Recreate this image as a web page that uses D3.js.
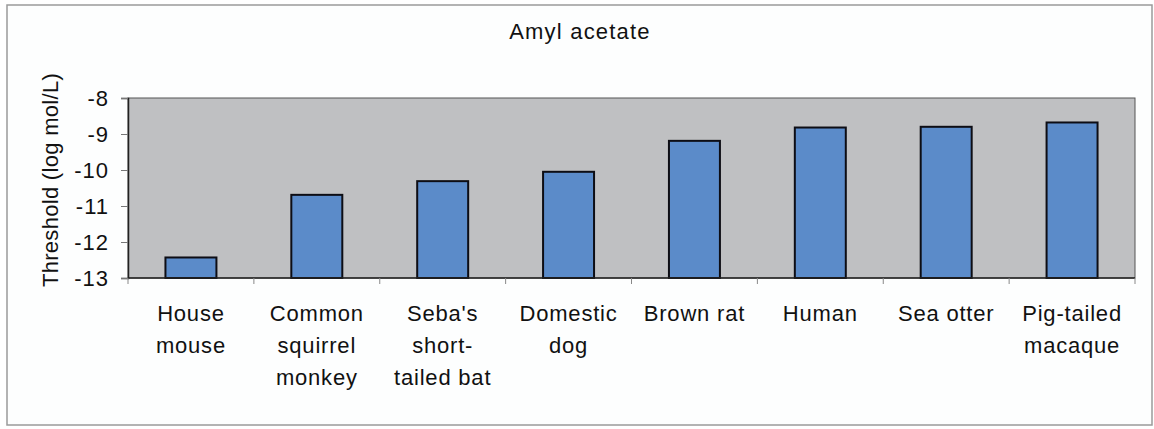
<!DOCTYPE html>
<html>
<head>
<meta charset="utf-8">
<script src="https://cdn.jsdelivr.net/npm/d3@7"></script>
<style>
  body { margin: 0; background: #ffffff; }
  svg text { font-family: "Liberation Sans", Arial, sans-serif; fill: #111; }
</style>
</head>
<body>
<script>
// chart data
var species = [
    ["House", "mouse"],
    ["Common", "squirrel", "monkey"],
    ["Seba's", "short-", "tailed bat"],
    ["Domestic", "dog"],
    ["Brown rat"],
    ["Human"],
    ["Sea otter"],
    ["Pig-tailed", "macaque"]
];
var thresholds = [-12.43, -10.69, -10.31, -10.05, -9.19, -8.82, -8.80, -8.68];
var yTicks = [-8, -9, -10, -11, -12, -13];
var chartTitle = "Amyl acetate";
var yTitle = "Threshold (log mol/L)";

var width = 1154,
    height = 429;
var plot = { left: 128, right: 1135, top: 98, bottom: 278 };

var svg = d3.select("body")
    .append("svg")
    .attr("width", width)
    .attr("height", height);

// outer frame of the chart
svg.append("rect")
    .attr("x", 7)
    .attr("y", 5)
    .attr("width", 1145)
    .attr("height", 420)
    .style("fill", "#fdfefe")
    .style("stroke", "#9a9a9a")
    .style("stroke-width", "1.5px");

var x = d3.scaleBand()
    .domain(d3.range(species.length))
    .range([plot.left, plot.right])
    .paddingInner(0.595)
    .paddingOuter(0.2975);

var y = d3.scaleLinear()
    .domain([-13, -8])
    .range([plot.bottom, plot.top]);

// grey plot area
svg.append("rect")
    .attr("x", plot.left)
    .attr("y", plot.top)
    .attr("width", plot.right - plot.left)
    .attr("height", plot.bottom - plot.top)
    .style("fill", "#bfc0c2")
    .style("stroke", "#555")
    .style("stroke-width", "1px");

// bars grow up from the bottom of the axis
svg.selectAll(".bar")
    .data(thresholds)
    .enter()
    .append("rect")
    .attr("class", "bar")
    .attr("x", function (d, i) { return x(i); })
    .attr("y", function (d) { return y(d); })
    .attr("width", x.bandwidth())
    .attr("height", function (d) { return y(-13) - y(d); })
    .style("fill", "#5b8bc9")
    .style("stroke", "#0d0d14")
    .style("stroke-width", "2px");

// y axis, plain hyphen for the minus sign like the original
var yAxis = svg.append("g")
    .attr("transform", "translate(" + plot.left + ",0)")
    .call(d3.axisLeft(y).tickValues(yTicks).tickSize(7).tickPadding(12)
        .tickFormat(function (d) { return String(d); }));
yAxis.select(".domain").style("stroke", "#222").style("stroke-width", "1.5px");
yAxis.selectAll(".tick line").style("stroke", "#777");
yAxis.selectAll("text")
    .style("font-size", "22px")
    .style("letter-spacing", "1px")
    .style("fill", "#111")
    .attr("font-family", null);

// x axis: ticks sit on the category boundaries
var step = x.step();
var xBoundaries = d3.range(species.length + 1).map(function (i) { return plot.left + i * step; });
svg.append("line")
    .attr("x1", plot.left)
    .attr("x2", plot.right)
    .attr("y1", plot.bottom)
    .attr("y2", plot.bottom)
    .style("stroke", "#222")
    .style("stroke-width", "1.5px");
svg.selectAll(".xtick")
    .data(xBoundaries)
    .enter()
    .append("line")
    .attr("x1", function (d) { return d; })
    .attr("x2", function (d) { return d; })
    .attr("y1", plot.bottom)
    .attr("y2", plot.bottom + 6)
    .style("stroke", "#888");

// category labels, one tspan per line
var labels = svg.selectAll(".cat")
    .data(species)
    .enter()
    .append("text")
    .attr("class", "cat")
    .attr("x", function (d, i) { return x(i) + x.bandwidth() / 2; })
    .attr("y", 321)
    .attr("text-anchor", "middle")
    .style("font-size", "22px")
    .style("letter-spacing", "0.8px");
labels.selectAll("tspan")
    .data(function (d, i) { return d.map(function (s) { return { s: s, i: i }; }); })
    .enter()
    .append("tspan")
    .attr("x", function (d) { return x(d.i) + x.bandwidth() / 2; })
    .attr("dy", function (d, j) { return j === 0 ? 0 : 31.8; })
    .text(function (d) { return d.s; });

// title
svg.append("text")
    .attr("x", 580)
    .attr("y", 39)
    .attr("text-anchor", "middle")
    .style("font-size", "22px")
    .style("letter-spacing", "1.2px")
    .text(chartTitle);

// y axis title
svg.append("text")
    .attr("transform", "translate(58,180) rotate(-90)")
    .attr("text-anchor", "middle")
    .style("font-size", "22px")
    .style("letter-spacing", "0.3px")
    .text(yTitle);
</script>
</body>
</html>
